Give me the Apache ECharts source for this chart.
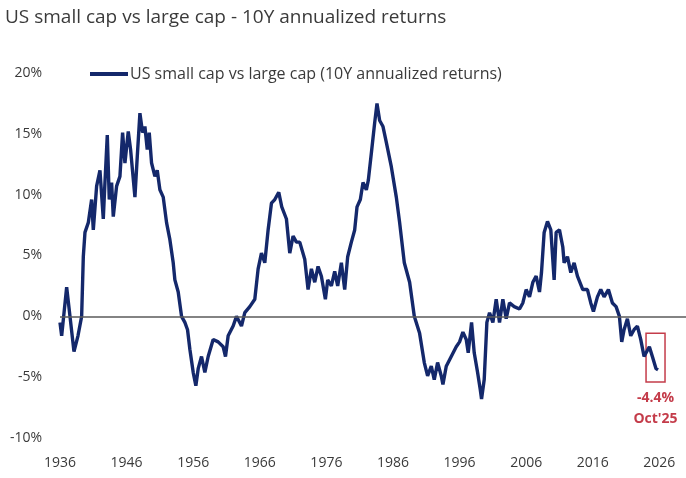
<!DOCTYPE html>
<html>
<head>
<meta charset="utf-8">
<title>US small cap vs large cap</title>
<script src="https://cdn.jsdelivr.net/npm/echarts@6/dist/echarts.min.js"></script>
<style>
  * {margin: 0; padding: 0;}
  body {background: #fff;}
  #chart {width: 686px; height: 478px;}
</style>
</head>
<body>
<div id="chart"></div>
<script type="text/javascript">
// years (fractional) and 10Y annualized return spread, %
var years = [
  1936.0, 1936.25, 1937.0, 1937.5, 1938.1, 1938.7, 1939.25, 1939.5, 1939.75, 1940.25,
  1940.75, 1941.0, 1941.5, 1942.0, 1942.5, 1942.75, 1943.1, 1943.4, 1943.75, 1944.0,
  1944.5, 1945.0, 1945.4, 1945.75, 1946.25, 1946.6, 1947.25, 1947.6, 1948.0, 1948.4,
  1948.75, 1949.1, 1949.4, 1949.75, 1950.25, 1950.6, 1951.0, 1951.5, 1952.0, 1952.5,
  1953.0, 1953.25, 1953.75, 1954.25, 1954.75, 1955.15, 1955.5, 1956.0, 1956.4, 1956.75,
  1957.25, 1957.75, 1958.25, 1959.0, 1959.75, 1960.5, 1960.85, 1961.25, 1962.0, 1962.5,
  1963.25, 1963.75, 1964.5, 1965.25, 1965.75, 1966.25, 1966.75, 1967.25, 1967.75, 1968.25,
  1968.85, 1969.3, 1970.0, 1970.5, 1971.0, 1971.5, 1972.0, 1972.75, 1973.25, 1973.75,
  1974.25, 1974.75, 1975.25, 1975.85, 1976.2, 1976.75, 1977.25, 1977.7, 1978.25, 1978.75,
  1979.2, 1979.75, 1980.25, 1980.6, 1981.1, 1981.5, 1982.0, 1982.3, 1982.75, 1983.25,
  1983.6, 1984.0, 1984.5, 1985.0, 1985.75, 1986.5, 1987.0, 1987.7, 1988.5, 1989.2,
  1990.0, 1990.7, 1991.2, 1991.75, 1992.2, 1992.7, 1993.25, 1993.5, 1994.0, 1994.75,
  1995.5, 1996.0, 1996.5, 1997.0, 1997.3, 1997.8, 1998.2, 1998.7, 1999.1, 1999.3,
  1999.7, 2000.1, 2000.5, 2001.0, 2001.5, 2002.0, 2002.5, 2003.0, 2003.5, 2004.2,
  2005.0, 2005.5, 2006.0, 2006.5, 2007.0, 2007.5, 2008.0, 2008.3, 2008.7, 2009.2,
  2009.7, 2009.95, 2010.2, 2010.5, 2011.0, 2011.5, 2011.7, 2012.2, 2012.7, 2013.2,
  2013.7, 2014.5, 2015.2, 2015.7, 2016.1, 2016.7, 2017.2, 2017.7, 2018.35, 2018.95,
  2019.5, 2020.0, 2020.35, 2020.7, 2021.2, 2021.7, 2022.2, 2022.7, 2023.2, 2023.7,
  2024.5, 2024.95, 2025.5, 2025.8
];
var returns = [
  -0.5, -1.6, 2.4, 0.0, -2.9, -1.6, 0.0, 4.9, 6.9, 7.7,
  9.6, 7.1, 10.7, 12.0, 8.0, 11.0, 14.9, 9.6, 11.0, 8.2,
  10.7, 11.5, 15.1, 12.6, 15.2, 13.7, 9.8, 13.1, 16.7, 15.1,
  15.6, 13.7, 15.1, 12.6, 11.5, 12.0, 10.4, 9.8, 7.7, 6.3,
  4.4, 3.0, 2.0, 0.0, -0.5, -1.1, -2.7, -4.6, -5.7, -4.3,
  -3.3, -4.6, -3.3, -1.9, -2.1, -2.5, -3.3, -1.6, -0.8, 0.0,
  -0.8, 0.3, 0.8, 1.4, 3.9, 5.2, 4.4, 7.1, 9.3, 9.6,
  10.2, 9.0, 8.0, 5.2, 6.6, 6.1, 6.1, 4.7, 2.2, 3.9,
  2.8, 4.1, 3.3, 1.4, 3.0, 2.5, 3.7, 2.5, 4.4, 2.2,
  4.9, 6.1, 7.1, 9.0, 9.6, 11.0, 10.4, 11.2, 13.4, 15.9,
  17.5, 16.1, 15.6, 14.3, 12.3, 9.8, 7.7, 4.4, 2.8, 0.0,
  -1.4, -3.8, -4.9, -4.1, -5.2, -3.8, -4.9, -5.6, -4.1, -3.3,
  -2.5, -2.1, -1.3, -1.9, -3.0, -0.5, -3.0, -4.6, -6.0, -6.8,
  -5.2, -0.5, 0.3, -0.5, 1.4, -0.5, 1.4, -0.2, 1.1, 0.8,
  0.6, 1.1, 2.2, 1.6, 2.8, 3.3, 2.0, 3.6, 6.9, 7.8,
  7.1, 7.1, 3.0, 6.9, 7.1, 5.7, 4.4, 4.9, 3.6, 4.4,
  3.3, 2.2, 2.2, 1.1, 0.4, 1.6, 2.2, 1.6, 2.2, 1.1,
  0.8, 0.0, -2.1, -1.1, -0.2, -1.6, -1.1, -0.8, -1.9, -3.3,
  -2.5, -3.3, -4.3, -4.4
];
var yearTicks = [1936, 1946, 1956, 1966, 1976, 1986, 1996, 2006, 2016, 2026];
var seriesName = 'US small cap vs large cap (10Y annualized returns)';
var lastLabel = ['-4.4%', "Oct'25"];

var points = [];
for (var i = 0; i < years.length; i++) {
  points.push([years[i], returns[i]]);
}

var red = '#c43c4a';
var font = 'Open Sans';

var chart = echarts.init(document.getElementById('chart'));
var option = {
  animation: false,
  backgroundColor: '#fff',
  title: {
    text: 'US small cap vs large cap - 10Y annualized returns',
    left: 0,
    top: 3,
    textStyle: {fontFamily: font, fontSize: 19, fontWeight: 'normal', color: '#3a3a3a'}
  },
  legend: {
    data: [seriesName],
    left: 90,
    top: 66,
    padding: 0,
    icon: 'rect',
    itemWidth: 38,
    itemHeight: 4,
    textStyle: {fontFamily: font, fontSize: 16, color: '#3a3a3a', padding: [0, 0, 0, -3]}
  },
  grid: {left: 60, right: 0, top: 73, bottom: 40},
  xAxis: {
    type: 'value',
    min: 1936,
    max: 2030,
    axisLine: {show: false},
    axisTick: {show: false},
    splitLine: {show: false},
    axisLabel: {
      customValues: yearTicks,
      formatter: function (v) { return String(v); },
      margin: 18,
      fontFamily: font,
      fontSize: 14,
      color: '#3a3a3a'
    }
  },
  yAxis: {
    type: 'value',
    min: -10,
    max: 20,
    interval: 5,
    axisLine: {show: false},
    axisTick: {show: false},
    splitLine: {show: false},
    axisLabel: {
      formatter: '{value}%',
      margin: 18,
      fontFamily: font,
      fontSize: 14,
      color: '#3a3a3a'
    }
  },
  series: [{
    name: seriesName,
    type: 'line',
    data: points,
    showSymbol: false,
    symbol: 'none',
    color: '#14286b',
    lineStyle: {width: 3.4, color: '#14286b'},
    markLine: {
      silent: true,
      symbol: 'none',
      label: {show: false},
      lineStyle: {color: '#5a5a5a', width: 1.5, type: 'solid'},
      data: [{yAxis: 0}]
    },
    markArea: {
      silent: true,
      itemStyle: {color: 'rgba(0,0,0,0)', borderColor: red, borderWidth: 1.5},
      label: {
        show: true,
        position: 'bottom',
        formatter: lastLabel.join('\n'),
        fontFamily: font,
        fontSize: 14,
        fontWeight: 'bold',
        lineHeight: 21,
        color: red
      },
      data: [[{xAxis: 2024.0, yAxis: -1.4}, {xAxis: 2026.85, yAxis: -5.4}]]
    }
  }]
};
chart.setOption(option);
</script>
</body>
</html>
